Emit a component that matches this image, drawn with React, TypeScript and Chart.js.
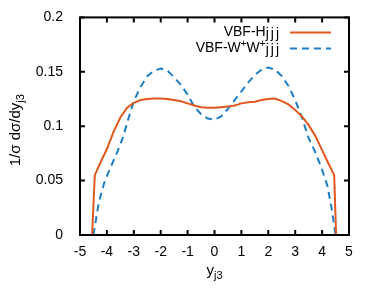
import React, { useEffect, useRef } from 'react';
import { Chart, registerables } from 'chart.js';
Chart.register(...registerables);

// VBF-Hjjj (solid orange)
const hX = [-4.55, -4.45, -4.25, -4.0, -3.75, -3.5, -3.25, -3.0, -2.75, -2.5, -2.25, -2.0, -1.75, -1.5, -1.25, -1.0, -0.75, -0.5, -0.25, 0, 0.25, 0.5, 0.75, 1.0, 1.25, 1.5, 1.75, 2.0, 2.25, 2.5, 2.75, 3.0, 3.25, 3.5, 3.75, 4.0, 4.25, 4.45, 4.52];
const hY = [0, 0.055, 0.066, 0.079, 0.095, 0.108, 0.117, 0.1215, 0.124, 0.125, 0.1255, 0.1255, 0.125, 0.124, 0.123, 0.121, 0.119, 0.1175, 0.117, 0.117, 0.1175, 0.118, 0.119, 0.121, 0.122, 0.1225, 0.124, 0.125, 0.1255, 0.123, 0.12, 0.115, 0.109, 0.101, 0.091, 0.078, 0.065, 0.055, 0];

// VBF-W+W+jjj (dashed blue)
const wX = [-4.5, -4.3, -4.1, -3.85, -3.6, -3.4, -3.2, -3.0, -2.75, -2.5, -2.25, -2.0, -1.75, -1.5, -1.25, -1.0, -0.75, -0.5, -0.25, 0, 0.25, 0.5, 0.75, 1.0, 1.25, 1.5, 1.75, 2.0, 2.25, 2.5, 2.75, 3.0, 3.25, 3.5, 3.75, 4.0, 4.2, 4.35, 4.5];
const wY = [0, 0.03, 0.048, 0.063, 0.077, 0.09, 0.107, 0.123, 0.136, 0.146, 0.151, 0.153, 0.151, 0.145, 0.138, 0.129, 0.118, 0.111, 0.107, 0.106, 0.109, 0.116, 0.124, 0.132, 0.14, 0.147, 0.152, 0.154, 0.152, 0.146, 0.137, 0.124, 0.108, 0.089, 0.076, 0.06, 0.045, 0.025, 0];

const X_TICKS = [-5, -4, -3, -2, -1, 0, 1, 2, 3, 4, 5];
const Y_TICKS = [0, 0.05, 0.1, 0.15, 0.2];

const ORANGE = '#e2571e';
const BLUE = '#1b7ec9';
const FONT = '"Liberation Sans", Arial, sans-serif';

type Part = { t: string; size: number; dy: number; ls?: number };

function partWidth(ctx: CanvasRenderingContext2D, p: Part) {
  ctx.font = `${p.size}px ${FONT}`;
  return ctx.measureText(p.t).width + (p.ls || 0) * p.t.length;
}

function drawRich(ctx: CanvasRenderingContext2D, parts: Part[], x: number, y: number, align: 'left' | 'right' | 'center') {
  const total = parts.reduce((s, p) => s + partWidth(ctx, p), 0);
  let cx = align === 'left' ? x : align === 'right' ? x - total : x - total / 2;
  ctx.textAlign = 'left';
  ctx.textBaseline = 'alphabetic';
  ctx.fillStyle = '#000';
  for (const p of parts) {
    ctx.font = `${p.size}px ${FONT}`;
    if (p.ls) {
      for (const ch of p.t) {
        ctx.fillText(ch, cx, y + p.dy);
        cx += ctx.measureText(ch).width + p.ls;
      }
    } else {
      ctx.fillText(p.t, cx, y + p.dy);
      cx += ctx.measureText(p.t).width;
    }
  }
}

const LEGEND_ROWS: { parts: Part[]; color: string; dash: number[] }[] = [
  { parts: [{ t: 'VBF-H', size: 14, dy: 0 }, { t: 'jjj', size: 14, dy: 2, ls: 2 }], color: ORANGE, dash: [] },
  {
    parts: [
      { t: 'VBF-W', size: 14, dy: 0 },
      { t: '+', size: 10, dy: -5 },
      { t: 'W', size: 14, dy: 0 },
      { t: '+', size: 10, dy: -5 },
      { t: 'jjj', size: 14, dy: 2, ls: 2 },
    ],
    color: BLUE,
    dash: [7, 5],
  },
];

const decorPlugin = {
  id: 'decor',
  afterDraw(chart: any) {
    const ctx: CanvasRenderingContext2D = chart.ctx;
    const { left, right, top, bottom } = chart.chartArea;
    const xs = chart.scales.x;
    const ys = chart.scales.y;
    ctx.save();
    ctx.strokeStyle = '#000';
    ctx.lineWidth = 2;
    ctx.setLineDash([]);
    ctx.strokeRect(left, top, right - left, bottom - top);
    const tl = 5;
    ctx.beginPath();
    for (const v of X_TICKS) {
      const px = xs.getPixelForValue(v);
      ctx.moveTo(px, bottom);
      ctx.lineTo(px, bottom - tl);
      ctx.moveTo(px, top);
      ctx.lineTo(px, top + tl);
    }
    for (const v of Y_TICKS) {
      const py = ys.getPixelForValue(v);
      ctx.moveTo(left, py);
      ctx.lineTo(left + tl, py);
      ctx.moveTo(right, py);
      ctx.lineTo(right - tl, py);
    }
    ctx.stroke();

    // legend
    const textRight = right - 68;
    LEGEND_ROWS.forEach((row, i) => {
      const base = top + 19 + i * 16;
      drawRich(ctx, row.parts, textRight, base, 'right');
      ctx.beginPath();
      ctx.strokeStyle = row.color;
      ctx.lineWidth = 2;
      ctx.setLineDash(row.dash);
      ctx.moveTo(textRight + 9, base - 4);
      ctx.lineTo(textRight + 50, base - 4);
      ctx.stroke();
    });
    ctx.setLineDash([]);

    // x title
    drawRich(ctx, [{ t: 'y', size: 15, dy: 0 }, { t: 'j3', size: 11, dy: 4 }], (left + right) / 2, 275, 'center');

    // y title
    ctx.save();
    ctx.translate(20, (top + bottom) / 2 + 4);
    ctx.rotate(-Math.PI / 2);
    drawRich(ctx, [{ t: '1/σ dσ/dy', size: 15, dy: 0 }, { t: 'j3', size: 11, dy: 4 }], 0, 0, 'center');
    ctx.restore();
    ctx.restore();
  },
};

export default function App() {
  const ref = useRef<HTMLCanvasElement>(null);
  useEffect(() => {
    if (!ref.current) return;
    const chart = new Chart(ref.current, {
      type: 'line',
      data: {
        datasets: [
          {
            label: 'VBF-Hjjj',
            data: hX.map((x, i) => ({ x, y: hY[i] })),
            borderColor: ORANGE,
            borderWidth: 2,
            pointRadius: 0,
            tension: 0,
            fill: false,
          },
          {
            label: 'VBF-W+W+jjj',
            data: wX.map((x, i) => ({ x, y: wY[i] })),
            borderColor: BLUE,
            borderWidth: 2,
            borderDash: [7, 5],
            pointRadius: 0,
            tension: 0,
            fill: false,
          },
        ],
      },
      options: {
        animation: false,
        responsive: true,
        maintainAspectRatio: false,
        layout: { padding: { top: 16, right: 25, left: 0, bottom: 0 } },
        plugins: { legend: { display: false }, tooltip: { enabled: false } },
        scales: {
          x: {
            type: 'linear',
            min: -5,
            max: 5,
            afterBuildTicks: (s: any) => { s.ticks = X_TICKS.map((v) => ({ value: v })); },
            afterFit: (s: any) => { s.height = 64; },
            grid: { display: false },
            border: { display: false },
            ticks: {
              color: '#000',
              font: { family: FONT, size: 14 },
              padding: 1,
              maxRotation: 0,
              callback: (v: any) => String(v),
            },
          },
          y: {
            type: 'linear',
            min: 0,
            max: 0.2,
            afterBuildTicks: (s: any) => { s.ticks = Y_TICKS.map((v) => ({ value: v })); },
            afterFit: (s: any) => { s.width = 80; },
            grid: { display: false },
            border: { display: false },
            ticks: {
              color: '#000',
              font: { family: FONT, size: 14 },
              padding: 9,
              callback: (v: any) => String(Number(Number(v).toFixed(2))),
            },
          },
        },
      },
      plugins: [decorPlugin],
    });
    return () => chart.destroy();
  }, []);
  return (
    <div style={{ position: 'fixed', left: 0, top: 0, width: 374, height: 299 }}>
      <canvas ref={ref} />
    </div>
  );
}
